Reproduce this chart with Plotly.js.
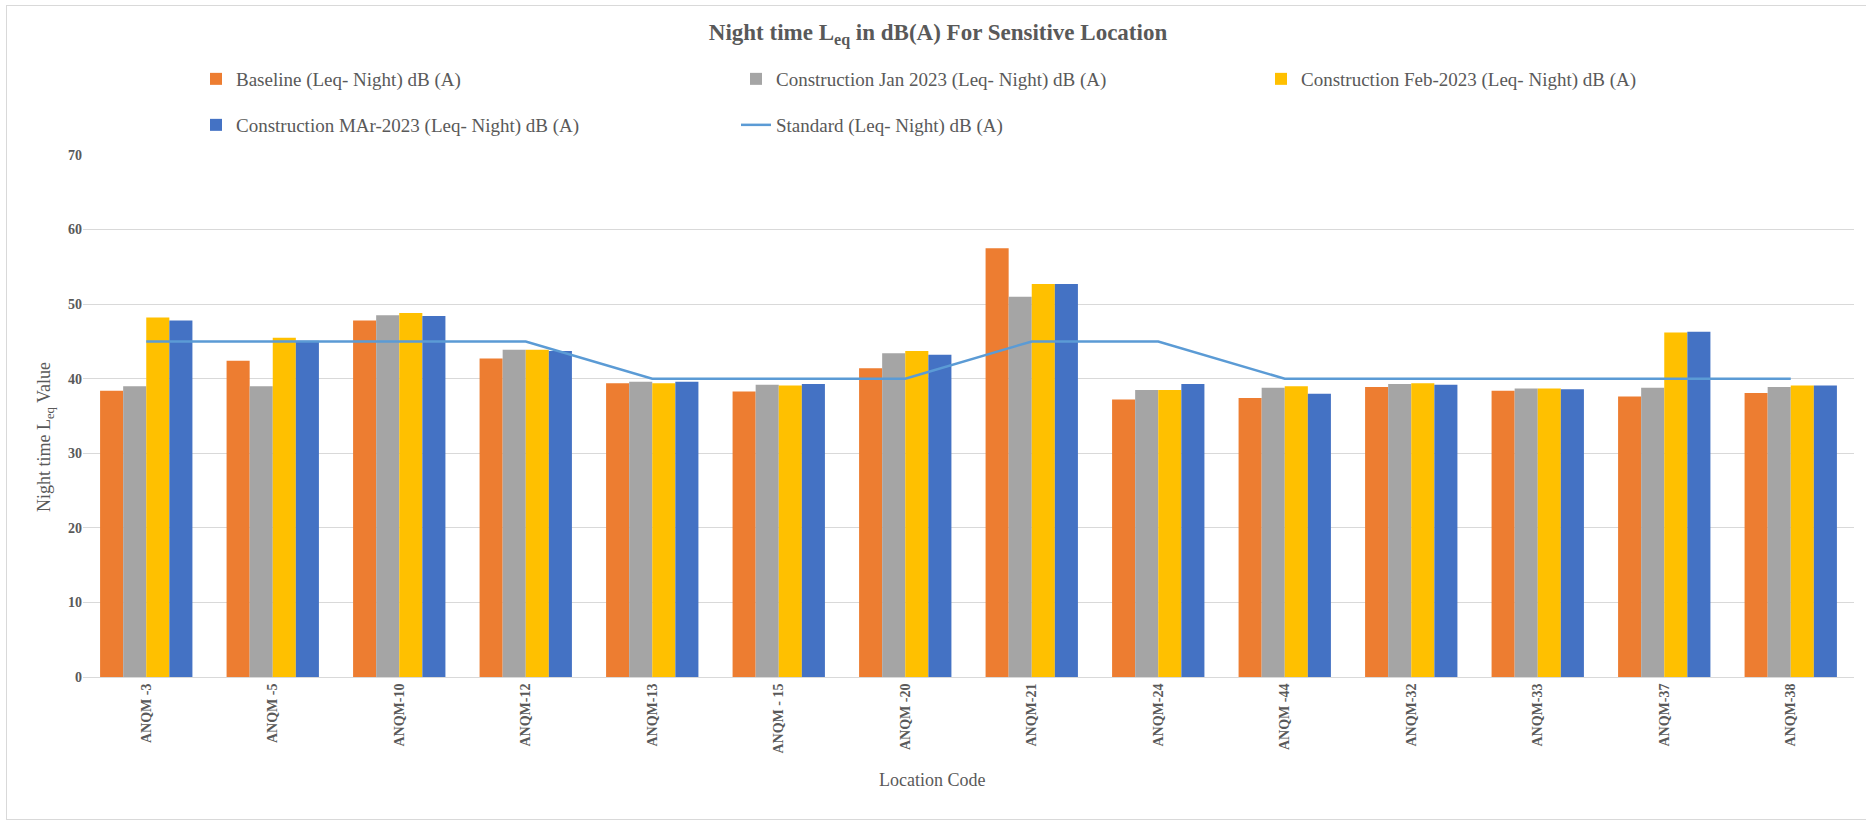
<!DOCTYPE html>
<html>
<head>
<meta charset="utf-8">
<script src="https://cdn.plot.ly/plotly-3.0.1.min.js"></script>
<style>
  html, body { margin: 0; padding: 0; background: #ffffff; overflow: hidden; }
  #frame { position: absolute; left: 6px; top: 5px; width: 1870px; height: 815px;
           border: 1px solid #d9d9d9; box-sizing: border-box; }
  #chart { position: absolute; left: 0; top: 0; width: 1866px; height: 826px; }
</style>
</head>
<body>
<div id="frame"></div>
<div id="chart"></div>
<script>
// Monitoring locations
const locations = ["ANQM -3", "ANQM -5", "ANQM-10", "ANQM-12", "ANQM-13", "ANQM - 15", "ANQM -20",
                   "ANQM-21", "ANQM-24", "ANQM -44", "ANQM-32", "ANQM-33", "ANQM-37", "ANQM-38"];

// Night-time Leq, dB(A)
const baseline        = [38.4, 42.4, 47.8, 42.7, 39.4, 38.3, 41.4, 57.5, 37.2, 37.4, 38.9, 38.4, 37.6, 38.1];
const constructionJan = [39.0, 39.0, 48.5, 43.9, 39.6, 39.2, 43.4, 51.0, 38.5, 38.8, 39.3, 38.7, 38.8, 38.9];
const constructionFeb = [48.2, 45.5, 48.8, 43.9, 39.4, 39.1, 43.7, 52.7, 38.5, 39.0, 39.4, 38.7, 46.2, 39.1];
const constructionMar = [47.8, 45.1, 48.4, 43.7, 39.6, 39.3, 43.2, 52.7, 39.3, 38.0, 39.2, 38.6, 46.3, 39.1];
const standard        = [45, 45, 45, 45, 40, 40, 40, 45, 45, 40, 40, 40, 40, 40];

const seriesNames = [
  "Baseline (Leq- Night) dB (A)",
  "Construction Jan 2023 (Leq- Night) dB (A)",
  "Construction Feb-2023 (Leq- Night) dB (A)",
  "Construction MAr-2023 (Leq- Night) dB (A)",
  "Standard (Leq- Night) dB (A)"
];

const serif = "Liberation Serif, Times New Roman, serif";
const textGray = "#595959";
const W = 1866, H = 826;
const M = { l: 83, r: 12, t: 155, b: 149 };
const plotW = W - M.l - M.r, plotH = H - M.t - M.b;

function barTrace(values, name, color, legendId) {
  return {
    type: "bar", x: locations, y: values, name: name,
    marker: { color: color, line: { width: 0 } },
    legend: legendId, hoverinfo: "x+y+name"
  };
}

const traces = [
  barTrace(baseline,        seriesNames[0], "#ed7d31", "legend"),
  barTrace(constructionJan, seriesNames[1], "#a5a5a5", "legend2"),
  barTrace(constructionFeb, seriesNames[2], "#ffc000", "legend3"),
  barTrace(constructionMar, seriesNames[3], "#4472c4", "legend4"),
  {
    type: "scatter", mode: "lines", x: locations, y: standard, name: seriesNames[4],
    line: { color: "#5b9bd5", width: 2.5 }, legend: "legend5"
  }
];

// One legend box per entry, laid out in two rows of columns
function legendAt(px, py) {
  return {
    xref: "container", yref: "container",
    x: px / W, y: 1 - py / H, xanchor: "left", yanchor: "middle",
    orientation: "h", borderwidth: 0, bgcolor: "rgba(0,0,0,0)",
    font: { family: serif, size: 19, color: textGray }
  };
}

// Convert page pixels to paper fractions of the plot area
const paperX = px => (px - M.l) / plotW;
const paperY = py => (H - M.b - py) / plotH;

const layout = {
  width: W, height: H,
  paper_bgcolor: "rgba(0,0,0,0)", plot_bgcolor: "#ffffff",
  margin: M,
  barmode: "group", bargap: 0.27, bargroupgap: 0,
  font: { family: serif, color: textGray },
  title: {
    text: "<b>Night time L<sub>eq</sub> in dB(A) For Sensitive Location</b>",
    font: { family: serif, size: 23, color: textGray },
    xref: "container", yref: "container",
    x: 938 / W, xanchor: "center", y: 1 - 32 / H, yanchor: "middle"
  },
  legend:  legendAt(196, 79),
  legend2: legendAt(736, 79),
  legend3: legendAt(1261, 79),
  legend4: legendAt(196, 125),
  legend5: legendAt(736, 125),
  xaxis: {
    type: "category", tickangle: -90, automargin: false,
    tickfont: { family: serif, size: 14, color: textGray, weight: "bold" },
    showgrid: false, showline: true, linecolor: "#d9d9d9", linewidth: 1,
    ticks: "", ticklen: 0
  },
  yaxis: {
    range: [0, 70], dtick: 10, tick0: 0, automargin: false,
    tickfont: { family: serif, size: 14, color: textGray, weight: "bold" },
    showgrid: true, gridcolor: "#d9d9d9", gridwidth: 1,
    zeroline: false, showline: false, ticks: "", ticklen: 0
  },
  annotations: [
    {
      // x-axis title
      text: "Location Code", showarrow: false,
      xref: "paper", yref: "paper", x: paperX(932), y: paperY(780),
      xanchor: "center", yanchor: "middle",
      font: { family: serif, size: 18, color: textGray }
    },
    {
      // y-axis title
      text: "Night time L<sub>eq</sub> Value", showarrow: false, textangle: -90,
      xref: "paper", yref: "paper", x: paperX(45), y: paperY(437),
      xanchor: "center", yanchor: "middle",
      font: { family: serif, size: 18, color: textGray }
    }
  ],
  showlegend: true
};

Plotly.newPlot("chart", traces, layout, { displayModeBar: false, staticPlot: true });
</script>
</body>
</html>
